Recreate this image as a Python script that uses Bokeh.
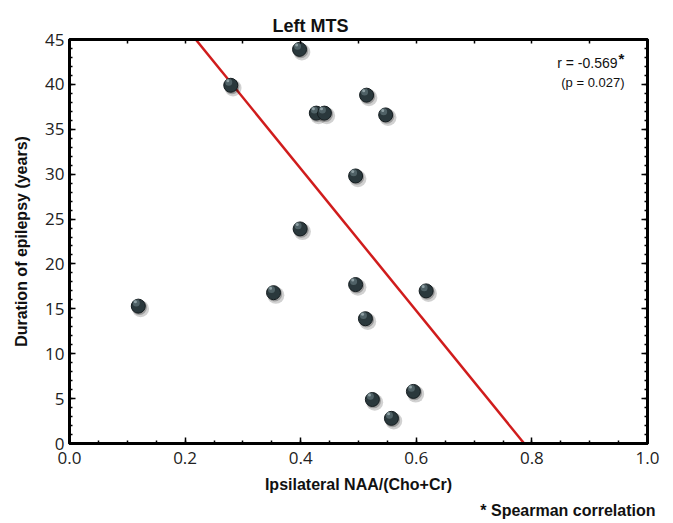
from bokeh.plotting import figure
from bokeh.models import (LinearAxis, SingleIntervalTicker, PrintfTickFormatter,
                          Label, ColumnDataSource, Range1d, Title)
from bokeh.transform import dodge
from bokeh.embed import file_html
from bokeh.resources import INLINE

# ---- data ----
naa_ratio = [0.119, 0.279, 0.398, 0.399, 0.353, 0.427, 0.441, 0.514, 0.547,
             0.495, 0.495, 0.512, 0.617, 0.524, 0.595, 0.557]
duration = [15.3, 39.9, 43.9, 23.9, 16.8, 36.8, 36.8, 38.8, 36.6,
            29.8, 17.7, 13.9, 17.0, 4.9, 5.8, 2.8]
reg_intercept = 62.3
reg_slope = -79.2
x_limits = [0.0, 1.0]
y_limits = [0, 45]

title_text = "Left MTS"
x_label = "Ipsilateral NAA/(Cho+Cr)"
y_label = "Duration of epilepsy (years)"
r_text = "r = -0.569"
p_text = "(p = 0.027)"
foot_text = "* Spearman correlation"

src = ColumnDataSource(dict(x=naa_ratio, y=duration))
reg_x = x_limits
reg_y = [reg_intercept + reg_slope * v for v in reg_x]

p = figure(width=673, height=523, output_backend="svg", toolbar_location=None,
           x_range=Range1d(*x_limits), y_range=Range1d(*y_limits),
           x_axis_location=None, y_axis_location=None,
           min_border_left=69, min_border_right=26, min_border_top=39,
           min_border_bottom=80, background_fill_color="white",
           border_fill_color="white")
p.grid.visible = False
p.outline_line_color = "black"
p.outline_line_width = 3

TICK_FONT = "Open Sans"
LABEL_FONT = "Liberation Sans"


def style_axis(ax, labels=True):
    ax.axis_line_width = 3
    ax.axis_line_color = "black"
    ax.major_tick_in = 6
    ax.major_tick_out = 0
    ax.minor_tick_in = 3
    ax.minor_tick_out = 0
    ax.major_tick_line_width = 1.5
    ax.minor_tick_line_width = 1.5
    ax.major_tick_line_color = "black"
    ax.minor_tick_line_color = "black"
    if labels:
        ax.major_label_text_font = TICK_FONT
        ax.major_label_text_font_size = "17px"
        ax.major_label_text_color = "#222222"
        ax.axis_label_text_font = LABEL_FONT
        ax.axis_label_text_font_style = "bold"
        ax.axis_label_text_font_size = "16px"
        ax.axis_label_text_color = "#111111"
    else:
        ax.major_label_text_color = None
        ax.major_label_text_font_size = "8px"
        ax.major_label_standoff = 0


bottom = LinearAxis(ticker=SingleIntervalTicker(interval=0.2, num_minor_ticks=4),
                    formatter=PrintfTickFormatter(format="%.1f"),
                    axis_label=x_label)
style_axis(bottom)
bottom.major_label_standoff = 8
bottom.axis_label_standoff = 9
p.add_layout(bottom, "below")

left = LinearAxis(ticker=SingleIntervalTicker(interval=5, num_minor_ticks=5),
                  formatter=PrintfTickFormatter(format="%d"),
                  axis_label=y_label)
style_axis(left)
left.major_label_standoff = 5
left.axis_label_standoff = 12
p.add_layout(left, "left")

top = LinearAxis(ticker=SingleIntervalTicker(interval=0.1, num_minor_ticks=0))
style_axis(top, labels=False)
top.major_tick_in = 4
p.add_layout(top, "above")

right = LinearAxis(ticker=SingleIntervalTicker(interval=5, num_minor_ticks=5))
style_axis(right, labels=False)
p.add_layout(right, "right")

# title and footnote
p.title = Title(text=title_text, align="left", offset=203, vertical_align="top",
                text_font=LABEL_FONT, text_font_style="bold",
                text_font_size="18px", text_color="#111111", standoff=4)
foot = Title(text=foot_text, align="right", offset=-8, standoff=8,
             text_font=LABEL_FONT, text_font_style="bold",
             text_font_size="16px", text_color="#111111")
p.add_layout(foot, "below")

# regression line
p.line(reg_x, reg_y, line_color="#d01c1c", line_width=2.5)

# spheres: shadow, body, highlight
p.scatter(x=dodge("x", 0.004, range=p.x_range), y=dodge("y", -0.3, range=p.y_range),
          source=src, size=17, fill_color="#000000", fill_alpha=0.18, line_color=None)
p.scatter(x=dodge("x", 0.002, range=p.x_range), y=dodge("y", -0.15, range=p.y_range),
          source=src, size=15, fill_color="#000000", fill_alpha=0.25, line_color=None)
p.scatter(x="x", y="y", source=src, size=14, fill_color="#2a383c",
          line_color="#151d20", line_width=1)
p.scatter(x=dodge("x", -0.0035, range=p.x_range), y=dodge("y", 0.35, range=p.y_range),
          source=src, size=7, fill_color="#5f7378", fill_alpha=0.7, line_color=None)
p.scatter(x=dodge("x", -0.005, range=p.x_range), y=dodge("y", 0.5, range=p.y_range),
          source=src, size=3, fill_color="#9fb0b4", fill_alpha=0.8, line_color=None)

# correlation annotation (inside frame, screen px from frame bottom-left)
p.add_layout(Label(x=548, y=381, x_units="screen", y_units="screen", text=r_text,
                   text_font=LABEL_FONT, text_font_size="14px",
                   text_align="right", text_baseline="middle", text_color="#111111"))
p.add_layout(Label(x=549, y=385, x_units="screen", y_units="screen", text="*",
                   text_font=LABEL_FONT, text_font_size="15px", text_font_style="bold",
                   text_align="left", text_baseline="middle", text_color="#111111"))
p.add_layout(Label(x=555, y=361, x_units="screen", y_units="screen", text=p_text,
                   text_font=LABEL_FONT, text_font_size="13px",
                   text_align="right", text_baseline="middle", text_color="#111111"))

open("out.html", "w").write(file_html(p, INLINE))
